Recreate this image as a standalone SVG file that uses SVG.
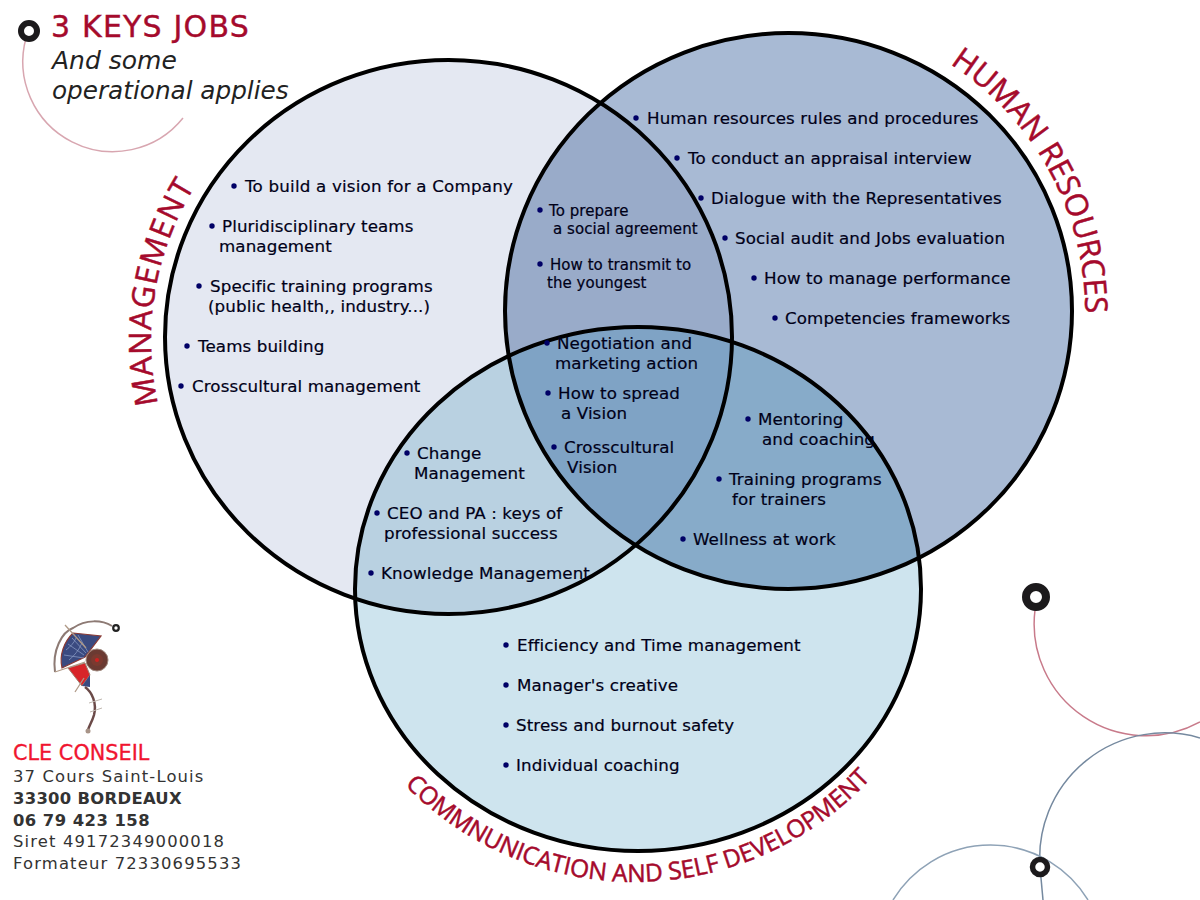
<svg xmlns="http://www.w3.org/2000/svg" xmlns:xlink="http://www.w3.org/1999/xlink" width="1200" height="900" viewBox="0 0 1200 900">
<style>
text{font-family:"DejaVu Sans",Verdana,sans-serif;}
.t{font-size:16.7px;letter-spacing:.1px;fill:#000018;stroke:#000018;stroke-width:.2px;}
.s{font-size:15px;letter-spacing:.05px;fill:#000018;stroke:#000018;stroke-width:.2px;}
.b{fill:#000066;}
.o{fill:none;stroke:#000;stroke-width:4;}
.lab{font-family:"Open Sans","Noto Sans",sans-serif;fill:#a50a2c;stroke:#a50a2c;stroke-width:.5px;}
.addr{font-size:16.4px;fill:#333;letter-spacing:1.15px;}
.addrb{font-size:16.4px;fill:#333;font-weight:bold;letter-spacing:.3px;}
.ring{fill:#fff;stroke:#1c1a1c;}
</style>
<defs>
<clipPath id="cm"><ellipse cx="448.5" cy="337" rx="283.5" ry="277"/></clipPath>
<clipPath id="ch"><ellipse cx="788.5" cy="311" rx="283.5" ry="278"/></clipPath>
<path id="pm" d="M158 404A292 292 0 0 1 198 182"/>
<path id="ph" d="M950 64A296 296 0 0 1 1085 325"/>
<path id="pc" d="M405 785A321 321 0 0 0 874 775"/>
</defs>
<rect width="1200" height="900" fill="#fff"/>
<g id="decor" fill="none">
<path d="M26 38A90 90 0 0 0 183 118" stroke="#d8a6b0" stroke-width="1.500"/>
<circle class="ring" cx="29" cy="31" r="8" stroke-width="6"/>
<path d="M1035 610A112 112 0 0 0 1200 722" stroke="#c87a8a" stroke-width="1.500"/>
<path d="M1040 867A125 125 0 0 1 1200 738" stroke="#75899f" stroke-width="1.500"/>
<path d="M1040 867L1043 900" stroke="#75899f" stroke-width="1.500"/>
<path d="M893 900A114 114 0 0 1 1088 900" stroke="#8ea2b6" stroke-width="1.500"/>
<circle class="ring" cx="1036" cy="597" r="10" stroke-width="8"/>
<circle class="ring" cx="1040" cy="867" r="7.500" stroke-width="5.500"/>
</g>
<g id="venn-fills">
<ellipse id="circle-management" cx="448.500" cy="337" rx="283.500" ry="277" fill="#e4e8f2"/>
<ellipse id="circle-hr" cx="788.500" cy="311" rx="283.500" ry="278" fill="#a8bad4"/>
<ellipse id="circle-communication" cx="638" cy="589" rx="283" ry="262" fill="#cee4ee"/>
<g clip-path="url(#cm)"><ellipse cx="788.500" cy="311" rx="283.500" ry="278" fill="#99abc9"/></g>
<g clip-path="url(#cm)"><ellipse cx="638" cy="589" rx="283" ry="262" fill="#b9d1e1"/></g>
<g clip-path="url(#ch)"><ellipse cx="638" cy="589" rx="283" ry="262" fill="#87abc9"/></g>
<g clip-path="url(#cm)"><g clip-path="url(#ch)"><ellipse cx="638" cy="589" rx="283" ry="262" fill="#7fa3c5"/></g></g>
</g>
<g id="venn-outlines">
<ellipse class="o" cx="448.500" cy="337" rx="283.500" ry="277"/>
<ellipse class="o" cx="788.500" cy="311" rx="283.500" ry="278"/>
<ellipse class="o" cx="638" cy="589" rx="283" ry="262"/>
</g>
<g id="connectors"/>
<g id="node-title">
<text x="51" y="37" font-size="30" letter-spacing="1.200" fill="#a50a2c" stroke="#a50a2c" stroke-width=".4">3 KEYS JOBS</text>
<text x="52" y="69" font-size="25" font-style="italic" fill="#222">And some</text>
<text x="52" y="99" font-size="24.700" font-style="italic" fill="#222">operational applies</text>
</g>
<g id="node-management">
<text class="lab" font-size="31"><textPath xlink:href="#pm" href="#pm" textLength="226" lengthAdjust="spacing">MANAGEMENT</textPath></text>
<circle class="b" cx="234" cy="186" r="2.700"/><text class="t" style="letter-spacing:.2px" x="245" y="192">To build a vision for a Company</text>
<circle class="b" cx="212" cy="226" r="2.700"/><text class="t" x="222" y="232">Pluridisciplinary teams</text><text class="t" x="219" y="252">management</text>
<circle class="b" cx="199" cy="286" r="2.700"/><text class="t" x="210" y="292">Specific training programs</text><text class="t" x="208" y="312">(public health,, industry...)</text>
<circle class="b" cx="187" cy="346" r="2.700"/><text class="t" x="198" y="352">Teams building</text>
<circle class="b" cx="181" cy="386" r="2.700"/><text class="t" x="192" y="392">Crosscultural management</text>
</g>
<g id="node-human-resources">
<text class="lab" font-size="31"><textPath xlink:href="#ph" href="#ph" textLength="296" lengthAdjust="spacing">HUMAN RESOURCES</textPath></text>
<circle class="b" cx="636" cy="118" r="2.700"/><text class="t" x="647" y="124">Human resources rules and procedures</text>
<circle class="b" cx="677" cy="158" r="2.700"/><text class="t" x="688" y="164">To conduct an appraisal interview</text>
<circle class="b" cx="701" cy="198" r="2.700"/><text class="t" x="711" y="204">Dialogue with the Representatives</text>
<circle class="b" cx="725" cy="238" r="2.700"/><text class="t" x="735" y="244">Social audit and Jobs evaluation</text>
<circle class="b" cx="754" cy="278" r="2.700"/><text class="t" x="764" y="284">How to manage performance</text>
<circle class="b" cx="775" cy="318" r="2.700"/><text class="t" x="785" y="324">Competencies frameworks</text>
</g>
<g id="node-communication">
<text class="lab" font-size="24.500"><textPath xlink:href="#pc" href="#pc" textLength="521" lengthAdjust="spacing">COMMNUNICATION AND SELF DEVELOPMENT</textPath></text>
<circle class="b" cx="506" cy="645" r="2.700"/><text class="t" x="517" y="651">Efficiency and Time management</text>
<circle class="b" cx="506" cy="685" r="2.700"/><text class="t" x="517" y="691">Manager's creative</text>
<circle class="b" cx="506" cy="725" r="2.700"/><text class="t" x="516" y="731">Stress and burnout safety</text>
<circle class="b" cx="506" cy="765" r="2.700"/><text class="t" x="516" y="771">Individual coaching</text>
</g>
<g id="node-management-hr">
<circle class="b" cx="540" cy="210" r="2.700"/><text class="s" x="549" y="216">To prepare</text><text class="s" x="553" y="234">a social agreement</text>
<circle class="b" cx="540" cy="264" r="2.700"/><text class="s" x="550" y="270">How to transmit to</text><text class="s" x="547" y="288">the youngest</text>
</g>
<g id="node-all-three">
<circle class="b" cx="547" cy="343" r="2.700"/><text class="t" x="557" y="349">Negotiation and</text><text class="t" x="555" y="369">marketing action</text>
<circle class="b" cx="548" cy="393" r="2.700"/><text class="t" x="558" y="399">How to spread</text><text class="t" x="561" y="419">a Vision</text>
<circle class="b" cx="554" cy="447" r="2.700"/><text class="t" x="564" y="453">Crosscultural</text><text class="t" x="567" y="473">Vision</text>
</g>
<g id="node-hr-communication">
<circle class="b" cx="748" cy="419" r="2.700"/><text class="t" x="758" y="425">Mentoring</text><text class="t" x="762" y="445">and coaching</text>
<circle class="b" cx="719" cy="479" r="2.700"/><text class="t" x="729" y="485">Training programs</text><text class="t" x="732" y="505">for trainers</text>
<circle class="b" cx="683" cy="539" r="2.700"/><text class="t" x="693" y="545">Wellness at work</text>
</g>
<g id="node-management-communication">
<circle class="b" cx="407" cy="453" r="2.700"/><text class="t" x="417" y="459">Change</text><text class="t" x="414" y="479">Management</text>
<circle class="b" cx="377" cy="513" r="2.700"/><text class="t" x="387" y="519">CEO and PA : keys of</text><text class="t" x="384" y="539">professional success</text>
<circle class="b" cx="371" cy="573" r="2.700"/><text class="t" x="381" y="579">Knowledge Management</text>
</g>
<g id="node-logo">
<path d="M55 672C52 650 62 632 73 628C86 619 102 620 112 626" fill="none" stroke="#8d7a74" stroke-width="2"/>
<path d="M73 633L101 636L85 657L62 668C59 655 64 642 73 633Z" fill="#3a4a80" stroke="#8a3a34" stroke-width="1.200"/>
<path d="M68 644L84 655M72 638L86 653M64 655L84 658M78 635L88 652M66 650C70 647 74 643 76 638M69 660C74 656 79 650 82 643" fill="none" stroke="#8fa0c8" stroke-width=".7"/>
<path d="M68 668L85 663L90 675L82 686Z" fill="#d8252a" stroke="#a08070" stroke-width="1"/>
<path d="M82 686L90 675L90 687Z" fill="#3a4a80"/>
<path d="M55 672L85 662M65 625L86 648M75 692L84 678" fill="none" stroke="#b09a88" stroke-width="1.300"/>
<circle cx="97" cy="660" r="11" fill="#6b3a32" stroke="#a08a80" stroke-width="1"/>
<circle cx="97" cy="660" r="6" fill="#7a3a30"/>
<circle cx="97" cy="660" r="2" fill="#d02020"/>
<circle cx="116" cy="628" r="2.800" fill="none" stroke="#222" stroke-width="2.200"/>
<path d="M85 687C92 692 97 703 94 715C92 722 89 726 88 730" fill="none" stroke="#6b4a48" stroke-width="2.500"/>
<path d="M89 703L102 699M90 712L102 708" stroke="#c0b8b0" stroke-width="1"/>
<circle cx="88" cy="731" r="2.500" fill="#a89488"/>
</g>
<g id="node-address">
<text x="13" y="760" font-size="20.800" fill="#f01530" stroke="#f01530" stroke-width=".3" font-family="Liberation Sans">CLE CONSEIL</text>
<text class="addr" x="13" y="782">37 Cours Saint-Louis</text>
<text class="addrb" x="13" y="804">33300 BORDEAUX</text>
<text class="addrb" style="letter-spacing:.45px" x="13" y="826">06 79 423 158</text>
<text class="addr" x="13" y="847">Siret 49172349000018</text>
<text class="addr" x="13" y="869">Formateur 72330695533</text>
</g>
</svg>
